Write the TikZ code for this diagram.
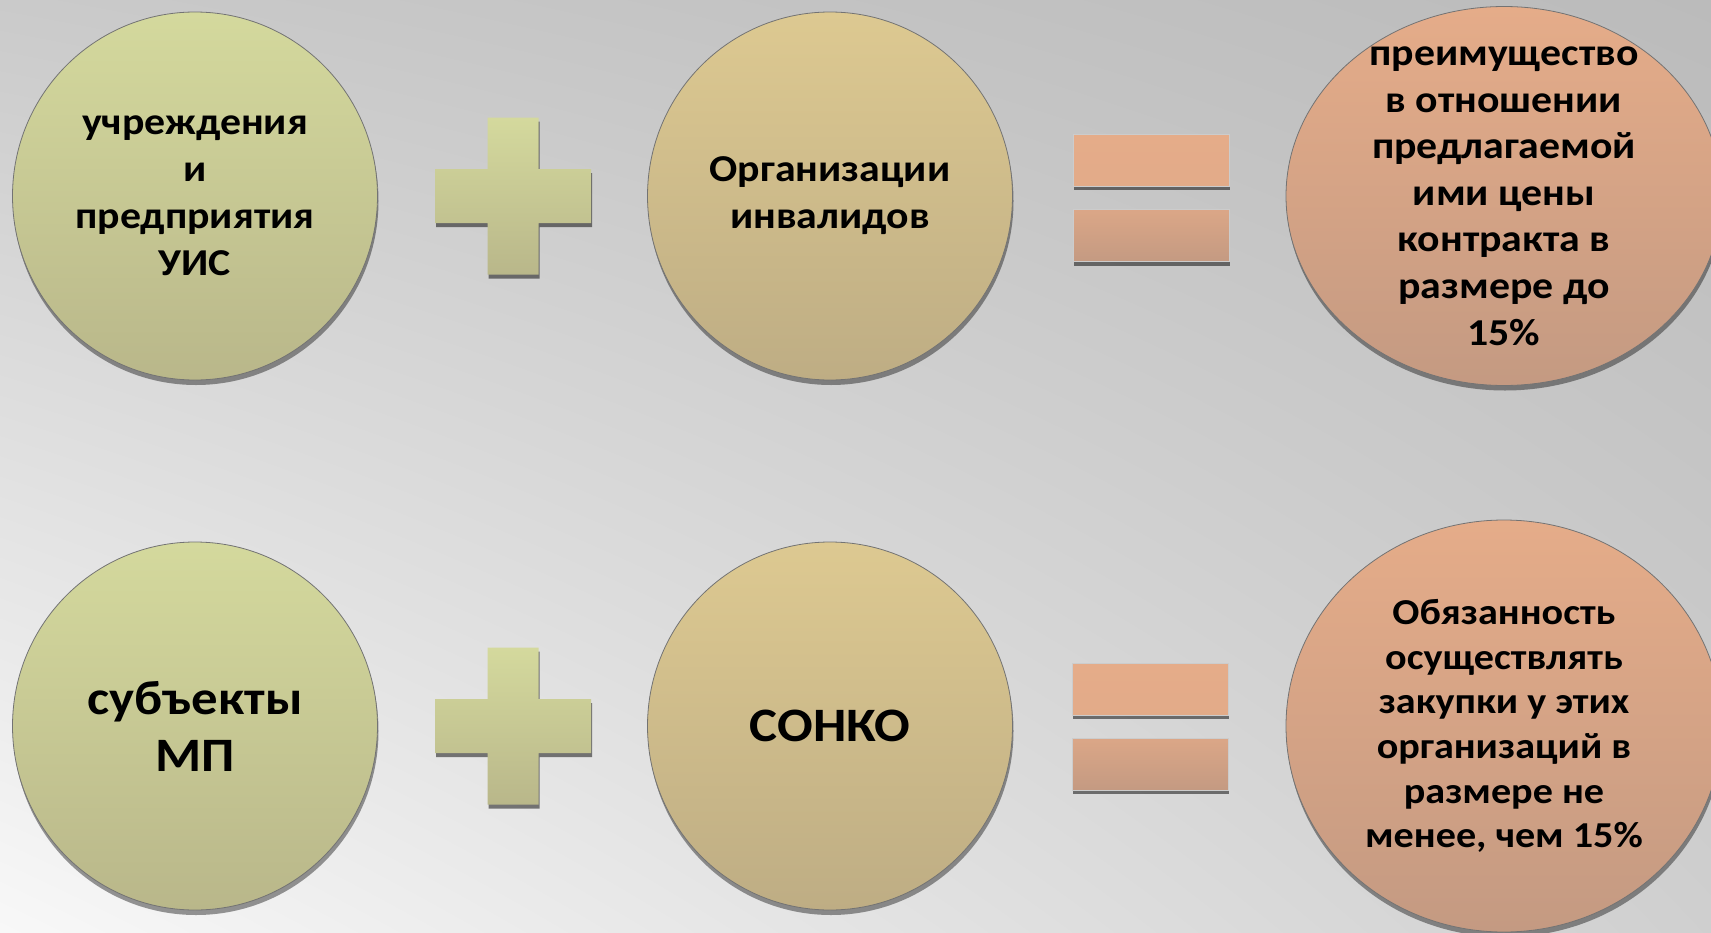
\documentclass[tikz,border=0pt]{standalone}
\usepackage{fontspec}
\setmainfont{Carlito}[FakeStretch=1.1]
\usetikzlibrary{positioning,shapes.geometric,shadows,shadings,calc}

\definecolor{greentop}{HTML}{D4D99D}
\definecolor{greenbot}{HTML}{B9B78A}
\definecolor{tantop}{HTML}{DDC991}
\definecolor{tanbot}{HTML}{BEAD84}
\definecolor{peachtop}{HTML}{E5AC89}
\definecolor{peachbot}{HTML}{C49A82}
\definecolor{bgdark}{HTML}{BBBBBB}
\definecolor{bgmid}{HTML}{CACACA}
\definecolor{bglight}{HTML}{F8F8F8}

%% plus sign round a named coordinate
\newcommand{\plusmark}[1]{%
  \path[plusfill] ($(#1)+(-25.5,-78.5)$) -- ++(51,0) -- ++(0,51.5) -- ++(52.5,0)
    -- ++(0,54) -- ++(-52.5,0) -- ++(0,51.5) -- ++(-51,0) -- ++(0,-51.5)
    -- ++(-52.5,0) -- ++(0,-54) -- ++(52.5,0) -- cycle;}

\begin{document}
\begin{tikzpicture}[
    x=1pt,y=-1pt,on grid,
    circ/.style={ellipse,draw=black!55,line width=0.8pt,inner sep=0pt,
                 align=center,font=\bfseries\fontsize{38}{47}\selectfont,
                 drop shadow={shadow xshift=1pt,shadow yshift=-5pt,
                              fill=black,opacity=0.4}},
    greencirc/.style={circ,top color=greentop,bottom color=greenbot,
                      minimum width=365pt,minimum height=368pt},
    tancirc/.style={circ,top color=tantop,bottom color=tanbot,
                    minimum width=365pt,minimum height=368pt},
    peachcirc/.style={circ,top color=peachtop,bottom color=peachbot,
                      minimum width=436pt},
    bigtext/.style={font=\bfseries\fontsize{48}{57}\selectfont},
    plusfill/.style={top color=greentop,bottom color=greenbot,
                     drop shadow={shadow xshift=1pt,shadow yshift=-4pt,
                                  fill=black,opacity=0.5}},
    eqbar/.style={rectangle,inner sep=0pt,minimum width=156pt,minimum height=52pt,
                  draw=black!20,line width=0.3pt,
                  drop shadow={shadow xshift=1pt,shadow yshift=-4pt,
                               fill=black,opacity=0.5}},
    eqtop/.style={eqbar,top color=peachtop,bottom color=peachtop!92!peachbot},
    eqbot/.style={eqbar,top color=peachtop!70!peachbot,bottom color=peachbot}
  ]
    \useasboundingbox (0,0) rectangle (1711,932);
    \clip (0,0) rectangle (1711,932);
    \shade[upper left=bgmid,upper right=bgdark,lower left=bglight,
           lower right=bgmid!90!white] (0,0) rectangle (1711,932);

    %% top row
    \node[greencirc] (uis) at (195,196)
      {учреждения\\и\\предприятия\\УИС};
    \node[tancirc,right=635pt of uis] (inv)
      {Организации\\инвалидов};
    \node[peachcirc,minimum height=379pt,right=674pt of inv,
          label={[align=center,font=\bfseries\fontsize{38}{46.6}\selectfont]center:%
            преимущество\\в отношении\\предлагаемой\\ими цены\\контракта в\\размере до\\15\%}]
      (pref) {};
    \coordinate[right=318pt of uis] (plusA);
    \plusmark{plusA}
    \node[eqtop] (eqA1) at (1151,160) {};
    \node[eqbot] (eqA2) at (1151,235.5) {};

    %% bottom row
    \node[greencirc,below=530pt of uis,bigtext] (smp) {субъекты\\МП};
    \node[tancirc,below=530pt of inv,bigtext] (sonko) {СОНКО};
    \node[peachcirc,minimum height=412pt,below=530pt of pref,
          font=\bfseries\fontsize{36.5}{44.6}\selectfont] (duty)
      {Обязанность\\осуществлять\\закупки у этих\\организаций в\\размере не\\менее, чем 15\%};
    \coordinate[below=530pt of plusA] (plusB);
    \plusmark{plusB}
    \node[eqtop] (eqB1) at (1150,689) {};
    \node[eqbot] (eqB2) at (1150,764) {};
\end{tikzpicture}
\end{document}
